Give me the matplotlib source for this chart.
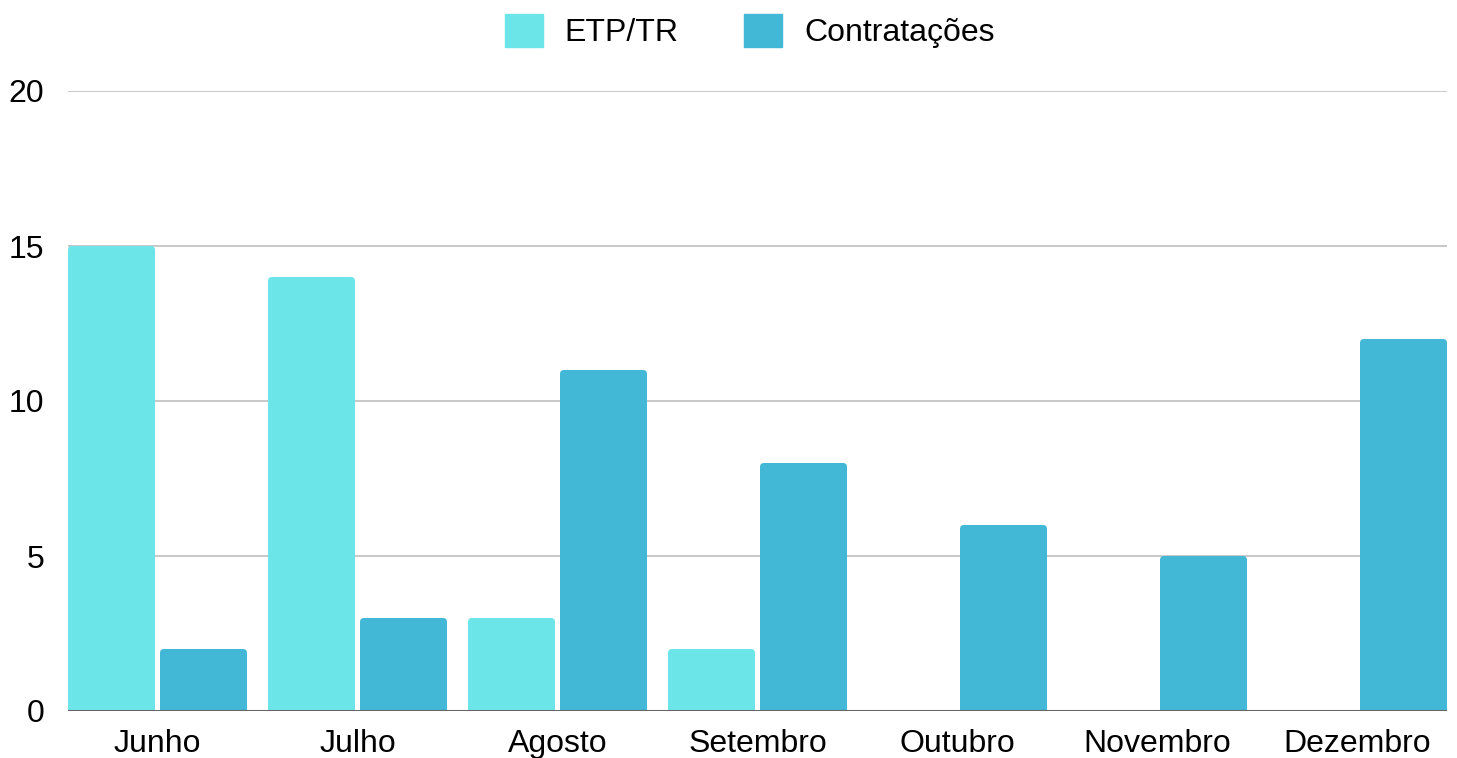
import matplotlib
matplotlib.use("Agg")
import matplotlib.pyplot as plt
from matplotlib.patches import FancyBboxPatch
import numpy as np

months = ["Junho", "Julho", "Agosto", "Setembro", "Outubro", "Novembro", "Dezembro"]
etp_tr = [15, 14, 3, 2, 0, 0, 0]
contratacoes = [2, 3, 11, 8, 6, 5, 12]
series_names = ["ETP/TR", "Contratações"]
colors = ["#6CE5E8", "#42B7D6"]
yticks = [0, 5, 10, 15, 20]

plt.rcParams['font.family'] = ['Liberation Sans', 'DejaVu Sans']
FS = 23

fig = plt.figure(figsize=(14.57, 7.58), dpi=100)
ax = fig.add_axes([68/1457, 47/758, (1447-68)/1457, (711-91)/758])

x = np.arange(len(months))
w = 0.435
off = 0.23
ax.set_xlim(-0.4475, len(months) - 1 + 0.4475)
ax.set_ylim(0, 20)

px_x = 200.0  # pixels per x unit
px_y = 31.0   # pixels per y unit
r_px = 4.0
handles = []
for vals, offset, col, name in [(etp_tr, -off, colors[0], series_names[0]),
                                (contratacoes, off, colors[1], series_names[1])]:
    bars = ax.bar(x + offset, vals, width=w, color=col, label=name, zorder=3)
    handles.append(bars)
    for rect in bars:
        h = rect.get_height()
        rect.set_visible(False)
        if h <= 0:
            continue
        rs = r_px / px_x
        aspect = (r_px / px_y) / rs
        p = FancyBboxPatch((rect.get_x(), -0.5), rect.get_width(), h + 0.5,
                           boxstyle=f"round,pad=0,rounding_size={rs}",
                           mutation_aspect=aspect, facecolor=col,
                           edgecolor="none", zorder=3, clip_on=True)
        ax.add_patch(p)

ax.set_yticks(yticks)
ax.set_yticklabels([str(t) for t in yticks])
ax.set_xticks(x)
ax.set_xticklabels(months)
ax.tick_params(axis='both', length=0, labelsize=FS, colors='black')
ax.tick_params(axis='y', pad=17)
ax.tick_params(axis='x', pad=13)

for t in yticks[1:]:
    ax.axhline(t, color="#c4c4c4", lw=1.3, zorder=1)
ax.axhline(0, color="#666666", lw=2.2, zorder=4)

for s in ax.spines.values():
    s.set_visible(False)

leg = fig.legend(handles=handles, labels=series_names, loc="center",
                 bbox_to_anchor=(749.5/1457, 1 - 31/758), ncol=2, frameon=False,
                 fontsize=FS, handlelength=1.19, handleheight=1.19,
                 handletextpad=0.69, columnspacing=2.04)
for hnd, col in zip(leg.legend_handles, colors):
    hnd.set_visible(True)
    hnd.set_color(col)

fig.savefig("out.png", dpi=100)
